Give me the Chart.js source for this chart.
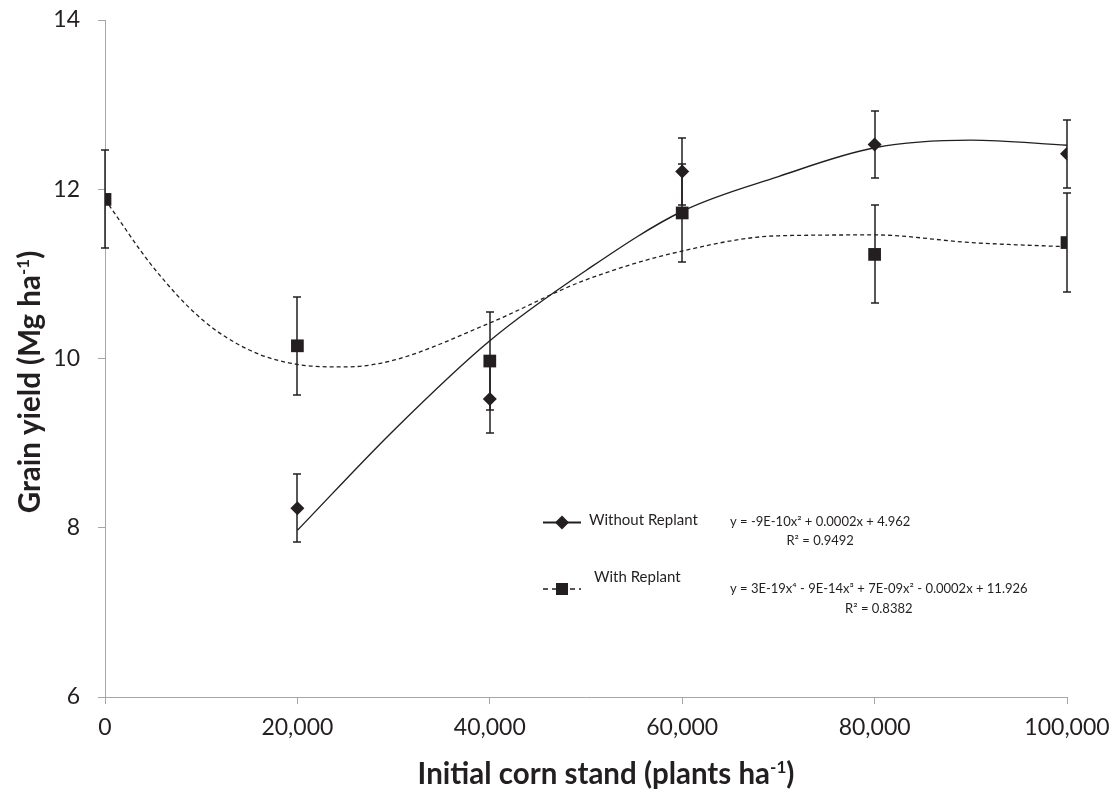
<!DOCTYPE html>
<html><head><meta charset="utf-8">
<script src="https://cdn.jsdelivr.net/npm/chart.js@4.4.1/dist/chart.umd.min.js"></script>
<style>html,body{margin:0;padding:0;background:#fff}#wrap{width:1114px;height:795px;position:relative}</style>
</head><body><div id="wrap"><canvas id="c" width="1114" height="795"></canvas></div>
<script>
// ---------- data ----------
const standX = [0, 20000, 40000, 60000, 80000, 100000];
const withoutYield = [null, 8.23, 9.52, 12.21, 12.53, 12.42];
const withoutSE = [null, 0.40, 0.40, 0.40, 0.40, 0.40];
const withYield = [11.88, 10.15, 9.97, 11.72, 11.23, 11.37];
const withSE = [0.58, 0.58, 0.58, 0.58, 0.58, 0.58];

const withoutTrendX = [20000, 30000, 40000, 50000, 60000, 70000, 80000, 90000, 100000];
const withoutTrendY = [7.97, 9.15, 10.21, 11.04, 11.74, 12.15, 12.49, 12.58, 12.52];
const withTrendX = [0, 5000, 10000, 15000, 20000, 25000, 30000, 40000, 50000, 60000, 70000, 80000, 90000, 100000];
const withTrendY = [11.88, 11.08, 10.47, 10.10, 9.93, 9.90, 9.98, 10.42, 10.93, 11.27, 11.45, 11.46, 11.37, 11.32];

const xTicks = [0, 20000, 40000, 60000, 80000, 100000];
const yTicks = [6, 8, 10, 12, 14];
const seriesNames = ['Without Replant', 'With Replant'];
const equations = ['y = -9E-10x\u00B2 + 0.0002x + 4.962', 'y = 3E-19x\u2074 - 9E-14x\u00B3 + 7E-09x\u00B2 - 0.0002x + 11.926'];
const r2Labels = ['R\u00B2 = 0.9492', 'R\u00B2 = 0.8382'];
const xTitle = ['Initial corn stand (plants ha', '-1', ')'];
const yTitle = ['Grain yield (Mg ha', '-1', ')'];

// ---------- styling ----------
const INK = '#231f20';
const AXIS = '#a6a6a6';
const FONT = 'Lato, "Open Sans", sans-serif';

const toPts = (xs, ys) => xs.map((x, i) => ({x: x, y: ys[i]}));

function drawRich(ctx, parts, size, supSize) {
  ctx.font = 'bold ' + size + 'px ' + FONT;
  const w0 = ctx.measureText(parts[0]).width;
  ctx.font = 'bold ' + supSize + 'px ' + FONT;
  const w1 = ctx.measureText(parts[1]).width;
  ctx.font = 'bold ' + size + 'px ' + FONT;
  const w2 = ctx.measureText(parts[2]).width;
  const total = w0 + w1 + w2;
  let x = -total / 2;
  ctx.font = 'bold ' + size + 'px ' + FONT;
  ctx.fillText(parts[0], x, 0); x += w0;
  ctx.font = 'bold ' + supSize + 'px ' + FONT;
  ctx.fillText(parts[1], x, -size * 0.38); x += w1;
  ctx.font = 'bold ' + size + 'px ' + FONT;
  ctx.fillText(parts[2], x, 0);
  return total;
}

const errorBars = {
  id: 'errorBars',
  beforeDatasetsDraw(chart) {
    const ctx = chart.ctx, xs = chart.scales.x, ys = chart.scales.y;
    ctx.save();
    ctx.strokeStyle = INK; ctx.lineWidth = 1.5;
    [[withoutYield, withoutSE], [withYield, withSE]].forEach(([vals, se]) => {
      vals.forEach((v, i) => {
        if (v == null) return;
        const px = Math.round(xs.getPixelForValue(standX[i]));
        const top = Math.round(ys.getPixelForValue(v + se[i]));
        const bot = Math.round(ys.getPixelForValue(v - se[i]));
        ctx.beginPath();
        ctx.moveTo(px, top); ctx.lineTo(px, bot);
        ctx.moveTo(px - 4, top); ctx.lineTo(px + 4, top);
        ctx.moveTo(px - 4, bot); ctx.lineTo(px + 4, bot);
        ctx.stroke();
      });
    });
    ctx.restore();
  }
};

const annotations = {
  id: 'annotations',
  afterDraw(chart) {
    const ctx = chart.ctx;
    ctx.save();
    ctx.fillStyle = INK;
    ctx.textBaseline = 'alphabetic';
    ctx.textAlign = 'left';
    // axis titles
    ctx.save();
    ctx.translate(606, 784);
    drawRich(ctx, xTitle, 29.5, 17);
    ctx.restore();
    ctx.save();
    ctx.translate(40, 382);
    ctx.rotate(-Math.PI / 2);
    drawRich(ctx, yTitle, 29.5, 17);
    ctx.restore();

    // legend
    const rows = [
      {y: 522.5, tx: 589, ty: 525, ey: 526, ry: 545, dash: [], style: 'diamond'},
      {y: 589, tx: 594, ty: 582, ey: 593, ry: 613, dash: [5, 4], style: 'square'}
    ];
    rows.forEach((r, i) => {
      ctx.strokeStyle = INK; ctx.lineWidth = i === 0 ? 2 : 1.4;
      ctx.setLineDash(r.dash);
      ctx.beginPath(); ctx.moveTo(543, r.y); ctx.lineTo(581, r.y); ctx.stroke();
      ctx.setLineDash([]);
      ctx.beginPath();
      if (r.style === 'diamond') {
        ctx.moveTo(562, r.y - 7); ctx.lineTo(569, r.y); ctx.lineTo(562, r.y + 7); ctx.lineTo(555, r.y);
      } else {
        ctx.rect(556, r.y - 6, 12, 12);
      }
      ctx.closePath(); ctx.fill();
      ctx.font = '15px ' + FONT;
      ctx.fillText(seriesNames[i], r.tx, r.ty);
      ctx.font = '13px ' + FONT;
      const ew = ctx.measureText(equations[i]).width;
      ctx.fillText(equations[i], 730, r.ey);
      ctx.textAlign = 'center';
      ctx.fillText(r2Labels[i], 730 + ew / 2, r.ry);
      ctx.textAlign = 'left';
    });
    ctx.restore();
  }
};

new Chart(document.getElementById('c'), {
  type: 'scatter',
  data: {
    datasets: [
      {label: seriesNames[0], data: toPts(standX, withoutYield), pointStyle: 'rectRot', pointRadius: 7, pointHoverRadius: 7,
        backgroundColor: INK, borderColor: INK, borderWidth: 0, showLine: false},
      {label: seriesNames[1], data: toPts(standX, withYield), pointStyle: 'rect', pointRadius: 9, pointHoverRadius: 9,
        backgroundColor: INK, borderColor: INK, borderWidth: 0, showLine: false},
      {label: seriesNames[0] + ' trend', data: toPts(withoutTrendX, withoutTrendY), showLine: true, pointRadius: 0,
        borderColor: INK, borderWidth: 1.4, cubicInterpolationMode: 'monotone', fill: false},
      {label: seriesNames[1] + ' trend', data: toPts(withTrendX, withTrendY), showLine: true, pointRadius: 0,
        borderColor: INK, borderWidth: 1.3, borderDash: [4, 3], cubicInterpolationMode: 'monotone', fill: false}
    ]
  },
  options: {
    responsive: false,
    devicePixelRatio: 1,
    animation: false,
    events: [],
    layout: {padding: {left: 0, right: 47, top: 20, bottom: 0}},
    plugins: {legend: {display: false}, tooltip: {enabled: false}, title: {display: false}},
    scales: {
      x: {
        type: 'linear', min: 0, max: 100000,
        afterBuildTicks: s => { s.ticks = xTicks.map(v => ({value: v})); },
        afterFit: s => { s.height = 98; s.paddingLeft = 0; s.paddingRight = 0; },
        grid: {drawOnChartArea: false, drawTicks: true, tickLength: 7, color: AXIS, tickColor: AXIS},
        border: {display: true, color: AXIS, width: 1},
        ticks: {color: INK, font: {family: FONT, size: 23}, padding: 10, maxRotation: 0,
          callback: v => v.toLocaleString('en-US')}
      },
      y: {
        min: 6, max: 14,
        afterBuildTicks: s => { s.ticks = yTicks.map(v => ({value: v})); },
        afterFit: s => { s.width = 105; s.paddingTop = 0; s.paddingBottom = 0; },
        grid: {drawOnChartArea: false, drawTicks: true, tickLength: 7, color: AXIS, tickColor: AXIS},
        border: {display: true, color: AXIS, width: 1},
        ticks: {color: INK, font: {family: FONT, size: 23}, padding: 18}
      }
    }
  },
  plugins: [errorBars, annotations]
});
</script>
</body></html>
